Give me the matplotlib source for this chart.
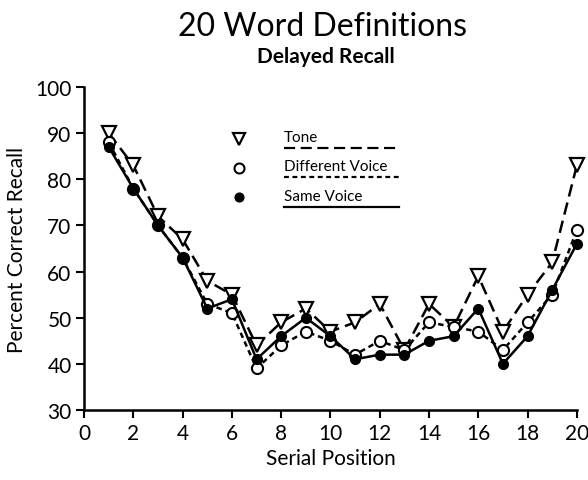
import numpy as np
import matplotlib.pyplot as plt
import matplotlib as mpl

mpl.rcParams['font.family'] = ['Lato', 'DejaVu Sans']

# serial positions and recall (percent correct)
pos = np.arange(1, 21)
tone = [90, 83, 72, 67, 58, 55, 44, 49, 52, 47, 49, 53, 43, 53, 48, 59, 47, 55, 62, 83]
diff_voice = [88, 78, 70, 63, 53, 51, 39, 44, 47, 45, 42, 45, 43, 49, 48, 47, 43, 49, 55, 69]
same_voice = [87, 78, 70, 63, 52, 54, 41, 46, 50, 46, 41, 42, 42, 45, 46, 52, 40, 46, 56, 66]

series_names = ['Tone', 'Different Voice', 'Same Voice']
xticks = np.arange(0, 21, 2)
yticks = np.arange(30, 101, 10)

fig = plt.figure(figsize=(5.88, 4.81), dpi=100)
ax = fig.add_axes([0.143, 0.1455, 0.838, 0.6715])

lw = 1.8
styles = [
    dict(ls=(0, (5, 2.5)), marker='v', ms=10, mfc='white', mec='black', mew=1.6),
    dict(ls=(0, (2.2, 1.6)), marker='o', ms=8, mfc='white', mec='black', mew=1.5),
    dict(ls='-', marker='o', ms=7, mfc='black', mec='black', mew=1.0),
]
for vals, st in zip([tone, diff_voice, same_voice], styles):
    ax.plot(pos, vals, color='black', lw=lw, clip_on=False, **st)

ax.set_xlim(0, 20)
ax.set_ylim(30, 100)
ax.set_xticks(xticks)
ax.set_yticks(yticks)
ax.spines['top'].set_visible(False)
ax.spines['right'].set_visible(False)
for s in ['left', 'bottom']:
    ax.spines[s].set_linewidth(1.8)
ax.tick_params(direction='out', length=6, width=1.5, labelsize=15, pad=3)

ax.set_xlabel('Serial Position', fontsize=15, labelpad=4)
ax.set_ylabel('Percent Correct Recall', fontsize=15, labelpad=6)

fig.text(0.548, 0.944, '20 Word Definitions', ha='center', va='center', fontsize=23)
fig.text(0.554, 0.882, 'Delayed Recall', ha='center', va='center', fontsize=15, fontweight='bold')

# hand-made legend with underlined labels
mx = 0.314
tx = 0.406
ex = 0.640
rows = [0.84, 0.75, 0.66]
for name, st, ry in zip(series_names, styles, rows):
    mk = {k: v for k, v in st.items() if k != 'ls'}
    ax.plot([mx], [ry], transform=ax.transAxes, color='black', ls='none', clip_on=False,
            **{**mk, 'ms': mk['ms'] * 0.9})
    ax.text(tx, ry + 0.004, name, transform=ax.transAxes, fontsize=11, va='center', ha='left')
    ax.plot([tx, ex], [ry - 0.03, ry - 0.03], transform=ax.transAxes, color='black',
            lw=1.6, ls=st['ls'])

fig.savefig('out.png', dpi=100)
